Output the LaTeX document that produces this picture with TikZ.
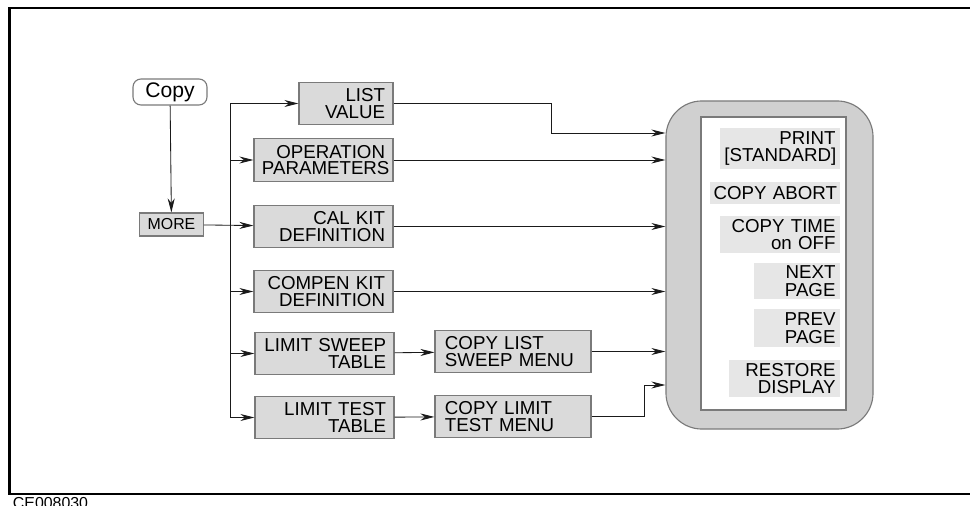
\documentclass[tikz,border=0pt]{standalone}
\usepackage{fontspec}
\setmainfont{Liberation Sans}
\usepackage{xcolor}
\usepackage{tikz}
\usetikzlibrary{positioning, arrows.meta}
\definecolor{kShade}{HTML}{DADADA}
\definecolor{kPanel}{HTML}{D0D0D0}
\definecolor{kSoft}{HTML}{E6E6E6}
\definecolor{kEdge}{HTML}{7A7A7A}
\definecolor{kInk}{HTML}{1A1A1A}
\tikzset{
  keybox/.style={draw=kEdge, fill=kShade, line width=0.8pt, minimum height=1.07cm,
    inner xsep=0.2cm, inner ysep=1pt, font=\fontsize{13.3}{12}\selectfont, align=right},
  widekey/.style={keybox, text width=3.075cm},
  menukey/.style={keybox, text width=3.4cm, inner xsep=0.25cm, align=left},
  softkey/.style={fill=kSoft, anchor=east, inner xsep=3pt, inner ysep=2pt,
    font=\fontsize{13.3}{12.4}\selectfont, align=right},
  link/.style={draw=kInk, line width=0.6pt, -{Stealth[length=10pt, width=5pt]}},
  wire/.style={draw=kInk, line width=0.6pt},
}

\begin{document}
\begin{tikzpicture}[x=0.025cm, y=-0.025cm]
        \useasboundingbox (0,0) rectangle (970,505);
        \draw[line width=1.8pt] (9.5,8) rectangle (985,494);
        \node[anchor=base west, font=\fontsize{11.3}{12}\selectfont] (fig) at (8,508) {CE008030};

        % hard key and its menu
        \node[draw=kEdge, line width=0.8pt, rounded corners=0.2cm, minimum width=1.85cm,
          minimum height=0.65cm, inner sep=1pt, font=\fontsize{15}{15}\selectfont] (copy) at (170,92) {Copy};
        \node[keybox, align=center, minimum width=1.575cm, minimum height=0.575cm,
          font=\fontsize{11.3}{11}\selectfont] (more) at (171.5,224.5) {MORE};
        \node[keybox, text width=1.95cm] (list) at (346,103.5) {LIST\\VALUE};
        \node[widekey] (oper) at (323.5,160) {OPERATION\\PARAMETERS};
        \node[widekey] (calkit) at (323.5,226.5) {CAL KIT\\DEFINITION};
        \node[widekey] (compen) at (323.5,291.5) {COMPEN KIT\\DEFINITION};
        \node[widekey] (lsweep) at (324.5,353.5) {LIMIT SWEEP\\TABLE};
        \node[widekey] (ltest) at (324.5,417.5) {LIMIT TEST\\TABLE};
        \node[menukey] (cpylist) at (513,351.5) {COPY LIST\\SWEEP MENU};
        \node[menukey] (cpylimit) at (513,416.5) {COPY LIMIT\\TEST MENU};

        % softkey panel
        \node[draw=kEdge, fill=kPanel, line width=0.8pt, rounded corners=0.9cm,
          minimum width=5.175cm, minimum height=8.2cm] (panel) at (769.5,265) {};
        \node[draw=kEdge, fill=white, line width=0.8pt, minimum width=3.625cm,
          minimum height=7.325cm] (screen) at (773.5,263.5) {};
        \node[softkey, text width=2.775cm, minimum height=1.025cm] (print) at (840,148.5) {PRINT\\{}[STANDARD]};
        \node[softkey, text width=3.1cm, minimum height=0.55cm, inner xsep=2pt] (abort) at (840,193) {COPY ABORT};
        \node[softkey, text width=2.775cm, minimum height=0.875cm] (ctime) at (840,234.5) {COPY TIME\\on OFF};
        \node[softkey, text width=1.925cm, minimum height=0.9cm] (next) at (840,281) {NEXT\\PAGE};
        \node[softkey, text width=1.925cm, minimum height=0.95cm] (prev) at (840,328) {PREV\\PAGE};
        \node[softkey, text width=2.55cm, minimum height=0.925cm] (restore) at (840,378.5) {RESTORE\\DISPLAY};

        \coordinate (bus) at (230,0);
        \coordinate (bendA) at (551,133);
        \coordinate (bendB) at (644,385);

        \draw[link] (copy) -- (more);
        \draw[wire] (bus |- list.west) -- (bus |- ltest.west);
        \draw[link] (more) -- (calkit);
        \foreach \k in {list, oper, compen, lsweep, ltest}
          \draw[link] (bus |- \k.west) -- (\k.west);
        \draw[link] (lsweep) -- (cpylist);
        \draw[link] (ltest) -- (cpylimit);

        \draw[link] (list.east) -| (bendA) -- (panel.west |- bendA);
        \foreach \k in {oper, calkit, compen, cpylist}
          \draw[link] (\k.east) -- (panel.west |- \k.east);
        \draw[link] (cpylimit.east) -| (bendB) -- (panel.west |- bendB);
      \end{tikzpicture}
\end{document}
